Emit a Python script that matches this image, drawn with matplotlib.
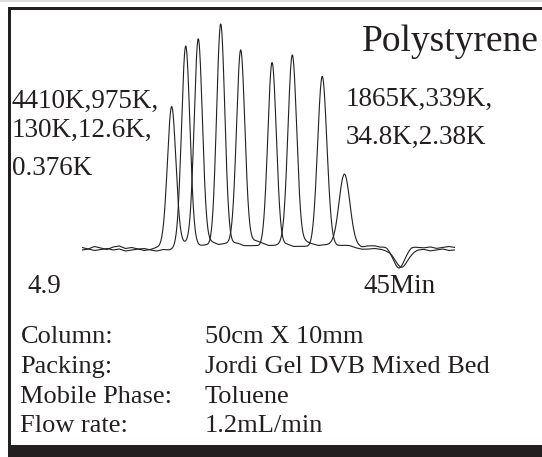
"""GPC chromatogram of polystyrene standards on a Jordi Gel DVB mixed bed column."""
import numpy as np
import matplotlib
matplotlib.use("Agg")
import matplotlib.pyplot as plt
from matplotlib.patches import Rectangle

plt.rcParams["font.family"] = ["Liberation Serif", "DejaVu Serif"]

# retention window (min)
t_start, t_end = 4.9, 45.0

# trace A: 4410K, 975K, 130K, 12.6K, 0.376K
peaks_a_time = [14.54, 17.40, 21.96, 27.51, 33.10]
peaks_a_height = [141, 206, 195, 191, 72]
peaks_a_sigma = [0.46, 0.44, 0.45, 0.47, 0.58]

# trace B: 1865K, 339K, 34.8K, 2.38K
peaks_b_time = [16.05, 19.81, 25.33, 30.73]
peaks_b_height = [203, 223, 185, 172]
peaks_b_sigma = [0.45, 0.44, 0.46, 0.50]

# solvent / system dip near the end of the run
dip_a = (38.98, -20.0, 0.65)
dip_b = (39.20, -18.0, 0.65)

# baseline wander (signal units, evenly spaced over the run)
noise_a = [0.5, -1.0, 1.5, 0.0, -1.5, 1.0, 2.0, -0.5, 0.5, -1.0, -2.5, -1.5, 0.5,
           1.5, 0.0, -1.0, 1.0, 2.0, 0.5, -0.5, 1.0, 0.0, -1.5, 0.5, 1.5, 0.5,
           -0.5, 1.0, 2.0, 0.5, -1.0, 0.0, 1.5, 0.5, -0.5, 0.5, 1.5, 0.0, -1.0,
           0.5, 1.0, -0.5, 0.0, 1.5, 0.5, -1.0, 0.5, 1.0, 0.0, 1.5, 0.5, -0.5,
           1.0, 2.0, 0.5, 0.0, 1.0, -0.5, 0.5, 1.5, 0.5]
noise_b = [-2.0, -1.0, -2.5, -1.5, -0.5, -2.0, -1.0, -3.0, -2.0, -1.0, -0.5, -2.0,
           -3.0, -1.5, -2.0, -0.5, -1.5, -2.5, -1.0, -2.0, -1.0, -2.5, -3.0, -1.5,
           -2.0, -1.0, -2.5, -1.5, -0.5, -2.0, -3.0, -1.5, -2.0, -1.0, -2.5, -1.5,
           -1.0, -2.5, -2.0, -3.0, -1.5, -2.0, -1.0, -0.5, -2.0, -3.0, -2.5, -1.5,
           -2.0, -3.0, -2.0, -1.0, -2.5, -3.5, -2.0, -1.5, -3.0, -2.0, -1.0, -2.5,
           -2.0]

title = "Polystyrene"
left_labels = ["4410K,975K,", "130K,12.6K,", "0.376K"]
right_labels = ["1865K,339K,", "34.8K,2.38K"]
start_label, end_label = "4.9", "45Min"
cond_names = ["Column:", "Packing:", "Mobile Phase:", "Flow rate:"]
cond_values = ["50cm X 10mm", "Jordi Gel DVB Mixed Bed", "Toluene", "1.2mL/min"]

W, H = 542, 457
INK = "#231f20"


def trace(t, times, heights, sigmas, dip, noise):
    y = np.interp(t, np.linspace(t_start, t_end, len(noise)), noise)
    for t0, h, s in zip(times, heights, sigmas):
        y += h * np.exp(-0.5 * ((t - t0) / s) ** 2)
        # small tail after each peak, kicking in past the apex
        onset = 1.0 / (1.0 + np.exp(-(t - t0 - 2 * s) / s))
        y += 0.05 * h * onset * np.exp(-np.clip(t - t0, 0, None) / 2.5)
    t0, h, s = dip
    y += h * np.exp(-0.5 * ((t - t0) / s) ** 2)
    return y


def fx(px):
    return px / W


def fy(py):
    return 1 - py / H


t = np.linspace(t_start, t_end, 1500)
ya = trace(t, peaks_a_time, peaks_a_height, peaks_a_sigma, dip_a, noise_a)
yb = trace(t, peaks_b_time, peaks_b_height, peaks_b_sigma, dip_b, noise_b)

fig = plt.figure(figsize=(W / 100, H / 100), dpi=100)

# chromatogram axes: x 82..455 px, y 20..275 px
ax = fig.add_axes([fx(82), fy(275), (455 - 82) / W, (275 - 20) / H])
ax.plot(t, ya, color=INK, lw=0.8)
ax.plot(t, yb, color=INK, lw=0.8)
ax.set_xlim(t_start, t_end)
ax.set_ylim(-27, 228)
ax.axis("off")

# frame: thin grey line on top, heavy black border left/top, black band at bottom
fig.patches.append(Rectangle((0, fy(1.5)), 1, 1.5 / H, transform=fig.transFigure,
                             color="#dcdcdc", lw=0))
fig.patches.append(Rectangle((fx(8), fy(10)), 1, 3 / H, transform=fig.transFigure,
                             color=INK, lw=0))
fig.patches.append(Rectangle((fx(8), 0), 3.3 / W, fy(7), transform=fig.transFigure,
                             color=INK, lw=0))
fig.patches.append(Rectangle((fx(8), 0), 1, 12 / H, transform=fig.transFigure,
                             color=INK, lw=0))

fs = 19.5
fig.text(fx(362), fy(51), title, fontsize=27, color=INK, va="baseline")
for s, y in zip(left_labels, [108, 137, 175]):
    fig.text(fx(12), fy(y), s, fontsize=fs, color=INK, va="baseline")
for s, y in zip(right_labels, [106, 144]):
    fig.text(fx(346), fy(y), s, fontsize=fs, color=INK, va="baseline")
fig.text(fx(28), fy(293), start_label, fontsize=fs, color=INK, va="baseline")
fig.text(fx(364), fy(293), end_label, fontsize=fs, color=INK, va="baseline")

for i, (name, val) in enumerate(zip(cond_names, cond_values)):
    y = 343 + i * 29.8
    fig.text(fx(20.5), fy(y), name, fontsize=19, color=INK, va="baseline")
    fig.text(fx(205), fy(y), val, fontsize=19, color=INK, va="baseline")

fig.savefig("out.png", dpi=100)
